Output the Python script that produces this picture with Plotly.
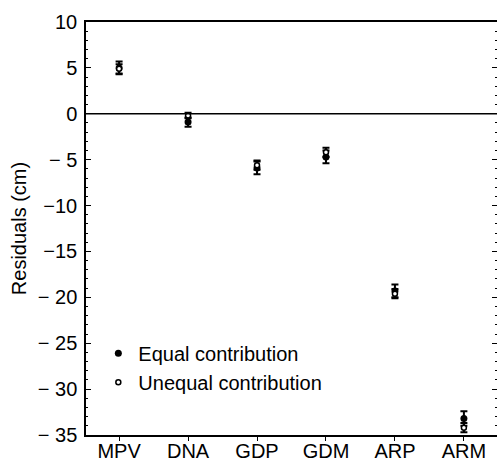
import plotly.graph_objects as go

categories = ["MPV", "DNA", "GDP", "GDM", "ARP", "ARM"]
equal_vals = [5.0, -0.9, -5.9, -4.7, -19.3, -33.2]
equal_err = [0.7, 0.5, 0.7, 0.7, 0.7, 0.8]
unequal_vals = [4.9, -0.2, -5.6, -4.2, -19.6, -34.2]
unequal_err = [0.5, 0.3, 0.5, 0.5, 0.5, 0.5]
ytick_vals = [10, 5, 0, -5, -10, -15, -20, -25, -30, -35]
ytick_text = ["10", "5", "0", "− 5", "−10", "−15", "− 20", "− 25", "− 30", "− 35"]

FONT = "Liberation Sans, Arial, Helvetica, sans-serif"

fig = go.Figure()
fig.add_trace(go.Scatter(
    x=categories, y=equal_vals, mode="markers", name="Equal contribution",
    marker=dict(symbol="circle", size=7, color="black"),
    error_y=dict(type="data", array=equal_err, color="black", thickness=2, width=3.5),
))
fig.add_trace(go.Scatter(
    x=categories, y=unequal_vals, mode="markers", name="Unequal contribution",
    marker=dict(symbol="circle", size=5, color="white", line=dict(color="black", width=1.5)),
    error_y=dict(type="data", array=unequal_err, color="black", thickness=2, width=3.5),
))

fig.add_hline(y=0, line=dict(color="black", width=1.5))

fig.update_layout(
    width=497, height=462,
    margin=dict(l=86, r=0, t=22, b=27, autoexpand=False),
    plot_bgcolor="white", paper_bgcolor="white",
    font=dict(family=FONT, size=20, color="black"),
    showlegend=True,
    legend=dict(x=0.03, y=0.245, xanchor="left", yanchor="top",
                font=dict(size=20), bgcolor="rgba(0,0,0,0)",
                itemwidth=30, tracegroupgap=0),
    xaxis=dict(
        type="category", range=[-0.48, 5.48], automargin=False,
        showline=True, linecolor="black", linewidth=1.5, mirror=True,
        ticks="outside", ticklen=4, tickcolor="black",
        ticklabelstandoff=-7,
        showgrid=False, zeroline=False,
        tickfont=dict(size=20),
    ),
    yaxis=dict(
        range=[-35, 10], tickvals=ytick_vals, ticktext=ytick_text, automargin=False,
        showline=True, linecolor="black", linewidth=1.5, mirror="allticks",
        ticks="inside", ticklen=5, tickcolor="black",
        ticklabelstandoff=3,
        minor=dict(dtick=1, ticks="inside", ticklen=2, tickcolor="black"),
        showgrid=False, zeroline=False,
        tickfont=dict(size=20),
        title=dict(text="Residuals (cm)", font=dict(size=20), standoff=6),
    ),
)

fig.write_html(
    "out.html",
    config={"displayModeBar": False},
    post_script="document.body.style.margin='0';document.body.style.overflow='hidden';",
)
